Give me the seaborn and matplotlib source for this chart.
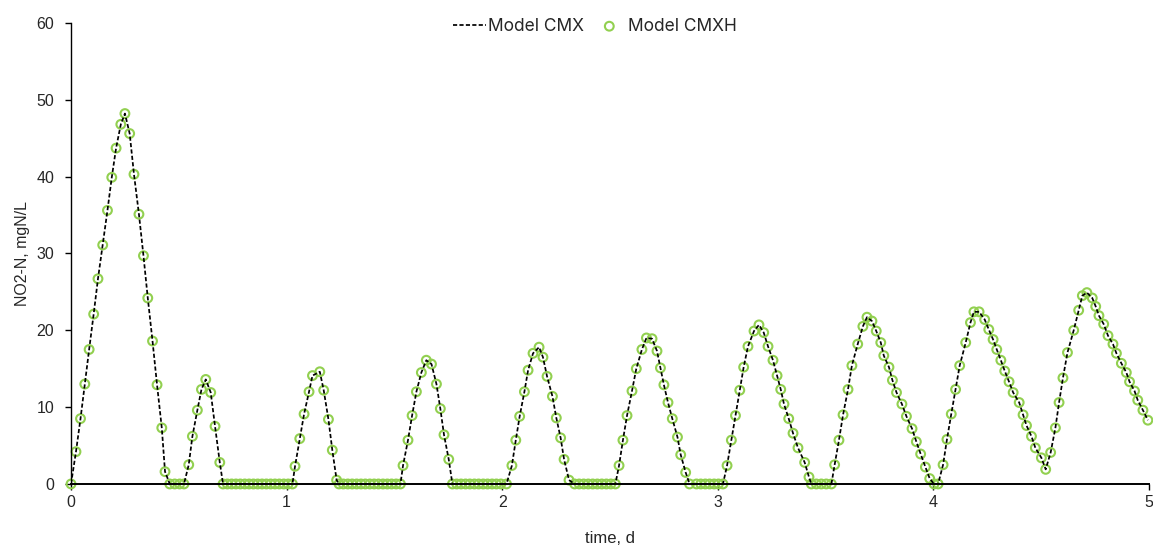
import matplotlib.pyplot as plt
import seaborn as sns
import pandas as pd

# time (d) and nitrite (mgN/L), one line per cycle / idle phase
time_d = [
    0.000, 0.023, 0.044, 0.064, 0.084, 0.105, 0.125, 0.147, 0.169, 0.189, 0.209,
    0.231, 0.250, 0.272, 0.292, 0.315, 0.336, 0.356, 0.378, 0.399, 0.421, 0.436,
    0.458, 0.481, 0.504, 0.524,
    0.546, 0.563, 0.586, 0.605, 0.625, 0.648, 0.668, 0.690,
    0.705, 0.725, 0.745, 0.765, 0.785, 0.806, 0.826, 0.846, 0.866, 0.886, 0.906,
    0.926, 0.946, 0.966, 0.987, 1.007, 1.027,
    1.039, 1.061, 1.081, 1.104, 1.120, 1.154, 1.172, 1.194, 1.212, 1.232,
    1.243, 1.263, 1.284, 1.304, 1.325, 1.345, 1.365, 1.386, 1.406, 1.426, 1.447,
    1.467, 1.487, 1.508, 1.528,
    1.540, 1.563, 1.582, 1.602, 1.625, 1.648, 1.672, 1.695, 1.713, 1.730, 1.752, 1.769,
    1.789, 1.809, 1.830, 1.850, 1.871, 1.891, 1.912, 1.932, 1.953, 1.973, 1.994, 2.020,
    2.045, 2.063, 2.081, 2.103, 2.120, 2.143, 2.171, 2.189, 2.208, 2.233, 2.251,
    2.271, 2.287, 2.310,
    2.336, 2.357, 2.378, 2.399, 2.420, 2.441, 2.462, 2.483, 2.504, 2.525,
    2.542, 2.560, 2.579, 2.602, 2.622, 2.648, 2.669, 2.695, 2.718, 2.734, 2.750,
    2.769, 2.789, 2.813, 2.828, 2.851, 2.869,
    2.901, 2.921, 2.942, 2.962, 2.983, 3.003, 3.024,
    3.043, 3.063, 3.082, 3.102, 3.120, 3.140, 3.168, 3.191, 3.213, 3.233, 3.256,
    3.275, 3.292, 3.307, 3.329, 3.349, 3.372, 3.403, 3.423,
    3.434, 3.457, 3.480, 3.503, 3.527,
    3.542, 3.562, 3.581, 3.604, 3.622, 3.649, 3.673, 3.692, 3.715, 3.735, 3.756,
    3.770, 3.794, 3.810, 3.829, 3.854, 3.875, 3.901, 3.921, 3.941, 3.963, 3.983,
    4.003, 4.022,
    4.045, 4.063, 4.083, 4.103, 4.122, 4.150, 4.172, 4.188, 4.212, 4.238, 4.257,
    4.277, 4.294, 4.313, 4.331, 4.351, 4.370, 4.398, 4.416, 4.432, 4.455, 4.473,
    4.501, 4.521,
    4.544, 4.566, 4.583, 4.601, 4.622, 4.651, 4.674, 4.691, 4.712, 4.737, 4.753,
    4.768, 4.790, 4.810, 4.833, 4.849, 4.872, 4.895, 4.910, 4.933, 4.948, 4.972,
    4.995,
]

no2_cmx = [
    0.0, 4.2, 8.5, 13.0, 17.5, 22.1, 26.7, 31.1, 35.6, 39.9, 43.7,
    46.8, 48.2, 45.6, 40.3, 35.1, 29.7, 24.2, 18.6, 12.9, 7.3, 1.6,
    0.0, 0.0, 0.0, 0.0,
    2.5, 6.2, 9.6, 12.3, 13.6, 11.9, 7.5, 2.8,
    0.0, 0.0, 0.0, 0.0, 0.0, 0.0, 0.0, 0.0, 0.0, 0.0, 0.0,
    0.0, 0.0, 0.0, 0.0, 0.0, 0.0,
    2.3, 5.9, 9.1, 12.0, 14.1, 14.6, 12.2, 8.4, 4.4, 0.5,
    0.0, 0.0, 0.0, 0.0, 0.0, 0.0, 0.0, 0.0, 0.0, 0.0, 0.0,
    0.0, 0.0, 0.0, 0.0,
    2.4, 5.7, 8.9, 12.0, 14.5, 16.1, 15.6, 13.0, 9.8, 6.4, 3.2, 0.0,
    0.0, 0.0, 0.0, 0.0, 0.0, 0.0, 0.0, 0.0, 0.0, 0.0, 0.0, 0.0,
    2.4, 5.7, 8.8, 12.0, 14.8, 17.0, 17.8, 16.5, 14.0, 11.4, 8.6,
    6.0, 3.2, 0.5,
    0.0, 0.0, 0.0, 0.0, 0.0, 0.0, 0.0, 0.0, 0.0, 0.0,
    2.4, 5.7, 8.9, 12.1, 15.0, 17.5, 19.0, 18.9, 17.3, 15.1, 12.9,
    10.6, 8.5, 6.1, 3.8, 1.5, 0.0,
    0.0, 0.0, 0.0, 0.0, 0.0, 0.0, 0.0,
    2.4, 5.7, 8.9, 12.2, 15.2, 17.9, 19.9, 20.7, 19.7, 17.9, 16.1,
    14.1, 12.3, 10.4, 8.5, 6.6, 4.7, 2.8, 0.9,
    0.0, 0.0, 0.0, 0.0, 0.0,
    2.5, 5.7, 9.0, 12.3, 15.4, 18.2, 20.5, 21.7, 21.2, 19.9, 18.4,
    16.7, 15.2, 13.5, 11.9, 10.4, 8.8, 7.2, 5.5, 3.9, 2.2, 0.7,
    0.0, 0.0,
    2.5, 5.8, 9.1, 12.3, 15.4, 18.4, 21.0, 22.4, 22.4, 21.4, 20.1,
    18.8, 17.5, 16.1, 14.7, 13.3, 11.9, 10.6, 9.0, 7.6, 6.2, 4.7,
    3.4, 1.9,
    4.1, 7.3, 10.6, 13.8, 17.1, 20.0, 22.6, 24.5, 24.9, 24.2, 23.1,
    21.9, 20.8, 19.3, 18.2, 17.0, 15.7, 14.5, 13.3, 12.1, 10.9, 9.6,
    8.3,
]

# the CMXH run lies on top of the CMX run everywhere in the chart
no2_cmxh = list(no2_cmx)

x_ticks = [0, 1, 2, 3, 4, 5]
y_ticks = [0, 10, 20, 30, 40, 50, 60]

GREEN = "#92D050"

df = pd.DataFrame({"time": time_d, "cmx": no2_cmx, "cmxh": no2_cmxh})

sns.set_style("white")
plt.rcParams["font.family"] = ["Liberation Sans", "DejaVu Sans"]

fig, ax = plt.subplots(figsize=(11.53, 5.45), dpi=100)
fig.subplots_adjust(left=0.0616, right=0.9965, bottom=0.112, top=0.958)

sns.scatterplot(data=df, x="time", y="cmxh", ax=ax, marker="o", s=40,
                facecolor="none", edgecolor=GREEN, linewidth=1.5,
                label="Model CMXH", clip_on=False, zorder=2)
sns.lineplot(data=df, x="time", y="cmx", ax=ax, color="black", linewidth=1.25,
             linestyle=(0, (2.4, 1.3)), sort=False, estimator=None,
             label="Model CMX", zorder=3)

ax.set_xlim(0, 5)
ax.set_ylim(0, 60)
ax.set_xticks(x_ticks)
ax.set_yticks(y_ticks)
ax.tick_params(axis="x", bottom=True, direction="out", length=4, width=1,
               color="black", labelsize=11.5, pad=4)
ax.tick_params(axis="y", left=True, direction="out", length=4, width=1,
               color="black", labelsize=11.5, pad=8)

for side in ["top", "right"]:
    ax.spines[side].set_visible(False)
ax.spines["bottom"].set_color("black")
ax.spines["bottom"].set_linewidth(1.4)
ax.spines["left"].set_color("black")
ax.spines["left"].set_linewidth(1.0)

ax.set_xlabel("time, d", fontsize=12, labelpad=15)
ax.set_ylabel("NO2-N, mgN/L", fontsize=11.5, labelpad=5)

handles, labels = ax.get_legend_handles_labels()
order = [labels.index("Model CMX"), labels.index("Model CMXH")]
ax.legend([handles[i] for i in order], [labels[i] for i in order],
          loc="upper center", bbox_to_anchor=(0.486, 1.045), ncol=2,
          frameon=False, handlelength=1.9, handletextpad=0.15,
          columnspacing=0.5, prop={"family": "Inter", "size": 12.5})

plt.savefig("out.png", dpi=100)
